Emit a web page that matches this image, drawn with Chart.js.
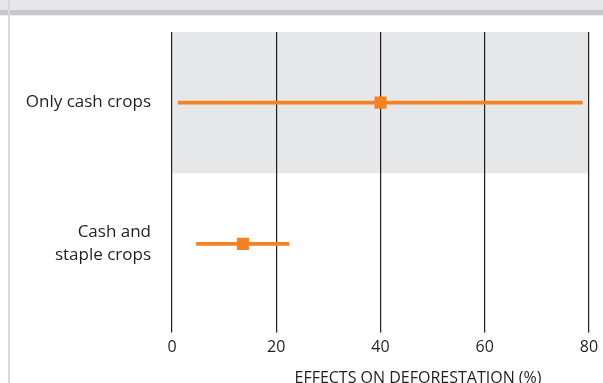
<!DOCTYPE html>
<html>
<head>
<meta charset="utf-8">
<script src="https://cdn.jsdelivr.net/npm/chart.js@4/dist/chart.umd.min.js"></script>
<style>
  html, body { margin: 0; padding: 0; background: #fff; }
  #wrap { position: relative; width: 603px; height: 383px; overflow: hidden; }
  #topband { position: absolute; left: 0; top: 0; width: 603px; height: 10px; background: #e6e7e9; border-bottom: 5px solid #c8c8ca; }
  #topline { position: absolute; left: 0; top: 15px; width: 603px; height: 1px; background: #ececee; }
  #leftline { position: absolute; left: 8px; top: 0; width: 2px; height: 383px; background: #d9d9db; }
  #xtitle { position: absolute; left: 268px; top: 366px; width: 300px; text-align: center;
            font: 16px "Open Sans", sans-serif; color: #231f20; white-space: nowrap; }
  canvas { position: absolute; left: 0; top: 0; }
</style>
</head>
<body>
<div id="wrap">
  <div id="topband"></div>
  <div id="topline"></div>
  <div id="leftline"></div>
  <canvas id="chart" width="603" height="383"></canvas>
  <div id="xtitle">EFFECTS ON DEFORESTATION (%)</div>
</div>
<script>
const categories = [["Only cash crops"], ["Cash and", "staple crops"]];
const estimates = [40, 13.6];
const lowerBounds = [1.2, 4.7];
const upperBounds = [78.7, 22.4];
const xTicks = [0, 20, 40, 60, 80];

const orange = "#f58220";
const ink = "#231f20";

// grey band behind the first category
const bandPlugin = {
    id: "band",
    beforeDraw(chart) {
        const { ctx, chartArea, scales } = chart;
        const split = scales.y.getPixelForValue(0.5);
        ctx.save();
        ctx.fillStyle = "#e6e7e9";
        ctx.fillRect(chartArea.left, chartArea.top, chartArea.right - chartArea.left, split - chartArea.top);
        ctx.restore();
    },
};

new Chart(document.getElementById("chart"), {
    type: "bar",
    data: {
        labels: categories,
        datasets: [
            {
                type: "line",
                indexAxis: "y",
                data: estimates,
                showLine: false,
                pointStyle: "rect",
                pointRadius: 8.5,
                pointBackgroundColor: orange,
                pointBorderWidth: 0,
                order: 0,
            },
            {
                type: "bar",
                data: lowerBounds.map((lo, i) => [lo, upperBounds[i]]),
                backgroundColor: orange,
                barThickness: 3,
                borderSkipped: false,
                order: 1,
            },
        ],
    },
    options: {
        indexAxis: "y",
        responsive: false,
        animation: false,
        layout: {
            padding: { left: 0, right: 14, top: 32, bottom: 0 },
        },
        plugins: {
            legend: { display: false },
            tooltip: { enabled: false },
        },
        scales: {
            x: {
                type: "linear",
                min: 0,
                max: 80,
                afterFit: (s) => {
                    s.height = 68.5;
                    s.paddingLeft = 0;
                    s.paddingRight = 0;
                },
                afterBuildTicks: (s) => { s.ticks = xTicks.map((v) => ({ value: v })); },
                border: { display: false },
                grid: {
                    color: ink,
                    lineWidth: 1.2,
                    drawTicks: true,
                    tickLength: 18,
                },
                ticks: {
                    color: ink,
                    padding: 5,
                    font: { family: "'Open Sans', sans-serif", size: 16 },
                },
            },
            y: {
                type: "category",
                afterFit: (s) => {
                    s.width = 172;
                    s.paddingTop = 0;
                    s.paddingBottom = 0;
                },
                border: { display: false },
                grid: { display: false, drawTicks: false },
                ticks: {
                    color: ink,
                    padding: 21,
                    font: { family: "'Open Sans', sans-serif", size: 17, lineHeight: 1.35 },
                },
            },
        },
    },
    plugins: [bandPlugin],
});
</script>
</body>
</html>
